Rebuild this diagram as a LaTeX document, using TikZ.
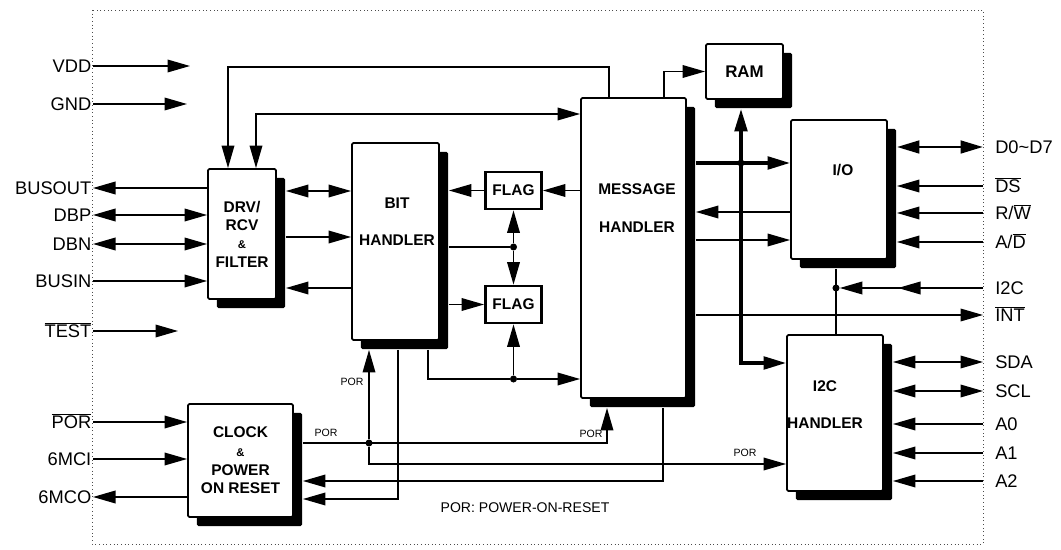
\documentclass[tikz,border=0pt]{standalone}
\usepackage{fontspec}
\setmainfont{Liberation Sans}
\usetikzlibrary{arrows.meta,positioning,shadows}
\newcommand{\ovl}[1]{$\overline{\mbox{#1}}$}
\newcommand{\shd}{0.225cm}

\begin{document}
\begin{tikzpicture}[x=0.025cm,y=-0.025cm,
  blk/.style={draw,fill=white,line width=1.3pt,rounded corners=1pt,inner sep=0pt,
    font=\fontsize{11}{13}\selectfont\bfseries,align=center,
    drop shadow={shadow xshift=\shd,shadow yshift=-\shd,fill=black,opacity=1}},
  flg/.style={draw,fill=white,line width=2pt,inner sep=0pt,minimum width=1.4cm,minimum height=0.925cm,
    font=\fontsize{11}{13}\selectfont\bfseries},
  txt/.style={font=\fontsize{11}{13}\selectfont\bfseries,align=center},
  pinl/.style={anchor=east,inner sep=1pt,font=\fontsize{13}{15}\selectfont,text height=9.4pt,text depth=0pt},
  pinr/.style={anchor=west,xshift=0.3cm,inner sep=0pt,font=\fontsize{13}{15}\selectfont,text height=9.4pt,text depth=0pt},
  por/.style={font=\fontsize{7.5}{9}\selectfont,inner sep=1pt},
  wire/.style={line width=1pt},
  tip/.tip={Triangle[length=16pt,width=9pt]},
  ar/.style={wire,-tip},
  dar/.style={wire,tip-tip},
  bus/.style={line width=2.4pt},
  jdot/.style={circle,fill,inner sep=0pt,minimum size=5pt}]
\useasboundingbox (0,0) rectangle (1061,550);
\draw[dotted,line width=0.6pt,black!70] (92,10) rectangle (983,544);

% blocks
\node[blk,minimum width=1.7cm,minimum height=3.25cm] (drv) at (242,234)
  {DRV/\\RCV\\{\fontsize{8}{9}\selectfont\&}\\FILTER};
\node[blk,minimum width=2.175cm,minimum height=4.925cm] (bit) at (395.5,241.5) {};
\node[txt] (bittxt) at (397,221.5) {BIT\\[13pt]HANDLER};
\node[flg] (flagA) at (513.5,190.5) {FLAG};
\node[flg] (flagB) at (513.5,304.5) {FLAG};
\node[blk,minimum width=2.625cm,minimum height=7.5cm] (msg) at (633.5,248) {};
\node[txt] (msgtxt) at (637,208) {MESSAGE\\[14pt]HANDLER};
\node[blk,minimum width=1.925cm,minimum height=1.375cm,font=\fontsize{12}{14}\selectfont\bfseries] (ram) at (744.5,71.5) {RAM};
\node[blk,minimum width=2.4cm,minimum height=3.475cm] (io) at (839,189.5) {};
\node[txt] (iotxt) at (843,170) {I/O};
\node[blk,minimum width=2.4cm,minimum height=3.9cm] (i2c) at (835,413) {};
\node[txt] (i2ctxt) at (825,404.5) {I2C\\[13pt]HANDLER};
\node[blk,minimum width=2.625cm,minimum height=2.825cm] (clk) at (240.5,460.5)
  {CLOCK\\[0.3pt]{\fontsize{8}{9}\selectfont\&}\\[0.3pt]POWER\\[0.3pt]ON RESET};

% shadow edges
\coordinate (drvS) at ([xshift=\shd]drv.east);
\coordinate (bitS) at ([xshift=\shd]bit.east);
\coordinate (bitB) at ([yshift=-\shd]bit.south);
\coordinate (msgS) at ([xshift=\shd]msg.east);
\coordinate (msgB) at ([yshift=-\shd]msg.south);
\coordinate (ramB) at ([yshift=-\shd]ram.south);
\coordinate (ioS) at ([xshift=\shd]io.east);
\coordinate (ioB) at ([yshift=-\shd]io.south);
\coordinate (i2cS) at ([xshift=\shd]i2c.east);
\coordinate (clkS) at ([xshift=\shd]clk.east);

% pins, left
\coordinate (vdd) at (93,66);
\coordinate (gnd) at (93,104);
\coordinate (busout) at (93,188);
\coordinate (dbp) at (93,215);
\coordinate (dbn) at (93,244);
\coordinate (busin) at (93,281);
\coordinate (test) at (93,331);
\coordinate (porp) at (93,422);
\coordinate (mci) at (93,459);
\coordinate (mco) at (93,497);
\node[pinl] (vddl) at (vdd) {VDD};
\node[pinl] (gndl) at (gnd) {GND};
\node[pinl] (busoutl) at (busout) {BUSOUT};
\node[pinl] (dbpl) at (dbp) {DBP};
\node[pinl] (dbnl) at (dbn) {DBN};
\node[pinl] (businl) at (busin) {BUSIN};
\node[pinl] (testl) at (test) {\ovl{TEST}};
\node[pinl] (porpl) at (porp) {\ovl{POR}};
\node[pinl] (mcil) at (mci) {6MCI};
\node[pinl] (mcol) at (mco) {6MCO};

% pins, right
\coordinate (d07) at (983,147);
\coordinate (ds) at (983,186);
\coordinate (rw) at (983,213);
\coordinate (ad) at (983,242);
\coordinate (i2cp) at (983,288);
\coordinate (int) at (983,315);
\coordinate (sda) at (983,362);
\coordinate (scl) at (983,391);
\coordinate (a0) at (983,424);
\coordinate (a1) at (983,453);
\coordinate (a2) at (983,481);
\node[pinr] (d07l) at (d07) {D0\textasciitilde D7};
\node[pinr] (dsl) at (ds) {\ovl{DS}};
\node[pinr] (rwl) at (rw) {R/\ovl{W}};
\node[pinr] (adl) at (ad) {A/\ovl{D}};
\node[pinr] (i2cpl) at (i2cp) {I2C};
\node[pinr] (intl) at (int) {\ovl{INT}};
\node[pinr] (sdal) at (sda) {SDA};
\node[pinr] (scll) at (scl) {SCL};
\node[pinr] (a0l) at (a0) {A0};
\node[pinr] (a1l) at (a1) {A1};
\node[pinr] (a2l) at (a2) {A2};

% junctions
\node[jdot] (jf) at (513.5,247) {};
\node[jdot] (jb) at (513.5,379) {};
\node[jdot] (jp) at (369,443) {};
\node[jdot] (jbus) at (741,163) {};
\node[jdot] (jio) at (836,288) {};

% left side wires
\draw[ar] (vdd) -- ++(97,0);
\draw[ar] (gnd) -- ++(94,0);
\draw[ar] (test) -- ++(85,0);
\draw[ar] (drv.west |- busout) -- (busout);
\draw[dar] (dbp) -- (drv.west |- dbp);
\draw[dar] (dbn) -- (drv.west |- dbn);
\draw[ar] (busin) -- (drv.west |- busin);
\draw[ar] (porp) -- (clk.west |- porp);
\draw[ar] (mci) -- (clk.west |- mci);
\draw[ar] (clk.west |- mco) -- (mco);

% top wires
\draw[ar] (msg.north -| 609,0) |- (228,67) -- (drv.north -| 228,0);
\draw[dar] (drv.north -| 256,0) |- (msg.west |- 0,114);
\draw[ar] (msg.north -| 664,0) |- (ram.west);

% drv / bit / flags
\draw[dar] (drvS |- 0,191) -- (bit.west |- 0,191);
\draw[ar] (drvS |- 0,237) -- (bit.west |- 0,237);
\draw[ar] (bit.west |- 0,288) -- (drvS |- 0,288);
\draw[ar] (flagA.west) -- (bitS |- flagA.west);
\draw[ar] (msg.west |- flagA.east) -- (flagA.east);
\draw[wire] (bitS |- jf) -- (jf);
\draw[ar] (jf) -- (flagA);
\draw[ar] (jf) -- (flagB);
\draw[ar] (bitS |- flagB.west) -- (flagB.west);
\draw[wire] (bitB -| 428,0) |- (jb);
\draw[ar] (jb) -- (msg.west |- jb);
\draw[ar] (jb) -- (flagB);

% power-on-reset
\draw[ar] (jp) -- (bitB -| jp);
\draw[ar] (clkS |- jp) -| (msgB -| 607,0);
\draw[ar] (jp) |- (i2c.west |- 0,464);
\draw[ar] (msgB -| 663,0) |- (clkS |- 0,481);
\draw[ar] (bitB -| 398,0) |- (clkS |- 0,499);
\node[por] (porb) at (352,382) {POR};
\node[por] (porc) at (326,433) {POR};
\node[por] (porm) at (591,434) {POR};
\node[por] (pori) at (745,453) {POR};

% ram / io / i2c
\draw[bus,tip-tip] (ramB -| jbus) |- (i2c.west |- 0,363);
\draw[bus,-tip] (msgS |- jbus) -- (io.west |- jbus);
\draw[ar] (io.west |- 0,212) -- (msgS |- 0,212);
\draw[ar] (msgS |- 0,240) -- (io.west |- 0,240);
\draw[wire] (ioB -| jio) -- (i2c.north -| jio);
\draw[ar] (msgS |- int) -- (int);

% right side wires
\draw[line width=2pt,tip-tip] (ioS |- d07) -- (d07);
\draw[ar] (ds) -- (ioS |- ds);
\draw[ar] (rw) -- (ioS |- rw);
\draw[ar] (ad) -- (ioS |- ad);
\draw[ar] (i2cp) -- ++(-85,0);
\draw[ar] (i2cp) -- (jio);
\draw[dar] (i2cS |- sda) -- (sda);
\draw[dar] (i2cS |- scl) -- (scl);
\draw[ar] (a0) -- (i2cS |- a0);
\draw[ar] (a1) -- (i2cS |- a1);
\draw[ar] (a2) -- (i2cS |- a2);

\node[font=\fontsize{10}{12}\selectfont] (note) at (525,508) {POR: POWER-ON-RESET};
\end{tikzpicture}
\end{document}
